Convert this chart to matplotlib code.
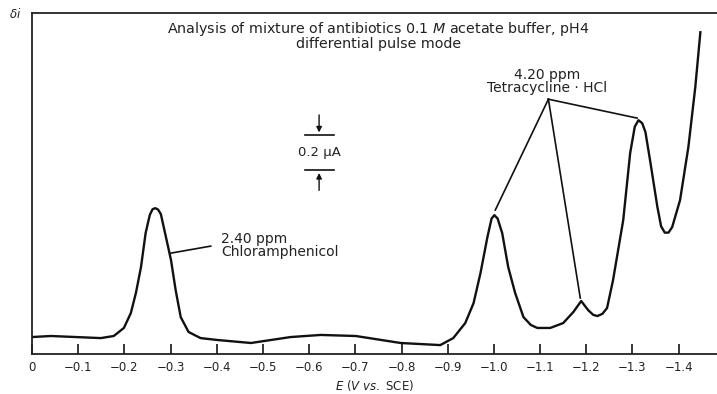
import matplotlib
matplotlib.use('Agg')
import matplotlib.pyplot as plt

plt.rcParams['font.family'] = ['DejaVu Sans']
plt.rcParams['mathtext.fontset'] = 'dejavusans'

# potential (V vs. SCE) and differential current (uA)
potential = [0.0, -0.041, -0.095, -0.149, -0.177, -0.199, -0.214, -0.225, -0.236, -0.246,
             -0.255, -0.261, -0.267, -0.273, -0.279, -0.290, -0.301, -0.311, -0.322, -0.339,
             -0.365, -0.402, -0.474, -0.560, -0.625, -0.701, -0.798, -0.884, -0.912, -0.938,
             -0.956, -0.971, -0.986, -0.995, -1.001, -1.008, -1.018, -1.031, -1.046, -1.064,
             -1.080, -1.094, -1.122, -1.150, -1.172, -1.189, -1.204, -1.215, -1.224, -1.235,
             -1.245, -1.258, -1.280, -1.295, -1.305, -1.313, -1.321, -1.328, -1.338, -1.354,
             -1.362, -1.370, -1.378, -1.386, -1.403, -1.421, -1.436, -1.447]
current = [0.097, 0.103, 0.097, 0.091, 0.103, 0.149, 0.234, 0.349, 0.497, 0.691,
           0.795, 0.828, 0.834, 0.826, 0.800, 0.669, 0.537, 0.366, 0.211, 0.126,
           0.091, 0.080, 0.063, 0.097, 0.109, 0.103, 0.063, 0.051, 0.091, 0.177,
           0.291, 0.463, 0.669, 0.775, 0.794, 0.775, 0.691, 0.497, 0.349, 0.211,
           0.166, 0.149, 0.149, 0.177, 0.240, 0.303, 0.251, 0.224, 0.217, 0.230,
           0.263, 0.423, 0.766, 1.149, 1.300, 1.337, 1.320, 1.270, 1.109, 0.840,
           0.730, 0.694, 0.694, 0.726, 0.880, 1.183, 1.526, 1.840]

tick_values = [0, -0.1, -0.2, -0.3, -0.4, -0.5, -0.6, -0.7, -0.8, -0.9, -1.0, -1.1, -1.2, -1.3, -1.4]
tick_labels = ['0', '\u22120.1', '\u22120.2', '\u22120.3', '\u22120.4', '\u22120.5', '\u22120.6',
               '\u22120.7', '\u22120.8', '\u22120.9', '\u22121.0', '\u22121.1', '\u22121.2',
               '\u22121.3', '\u22121.4']

# peak positions used for the annotation leaders
chlor_peak = (-0.301, 0.577)
tetra_peaks = [(-1.003, 0.823), (-1.187, 0.32), (-1.310, 1.349)]
tetra_label = (-1.118, 1.457)

txt = '#222222'

fig = plt.figure(figsize=(7.17, 3.94), dpi=100)
ax = fig.add_axes([0.0446, 0.1015, 0.9554, 0.8655])

ax.plot(potential, current, color='#111111', lw=1.7, solid_joinstyle='round')

ax.set_xlim(0, -1.483)
ax.set_ylim(0, 1.95)
ax.set_xticks(tick_values)
ax.set_xticklabels(tick_labels, fontsize=8.5, color=txt)
ax.set_yticks([])
ax.tick_params(axis='x', direction='in', length=7, width=1.1, pad=5)
ax.spines['right'].set_visible(False)
for s in ['left', 'top', 'bottom']:
    ax.spines[s].set_linewidth(1.3)
    ax.spines[s].set_color('#222222')

ax.set_xlabel(r'$\it{E}$ ($\it{V}$ $\it{vs.}$ SCE)', fontsize=8.5, color=txt, labelpad=3)
fig.text(0.012, 0.955, r'$\it{\delta i}$', fontsize=8.5, color=txt)

ax.text(-0.750, 1.91, 'Analysis of mixture of antibiotics 0.1 $\\it{M}$ acetate buffer, pH4\ndifferential pulse mode',
        ha='center', va='top', fontsize=10.3, color=txt, linespacing=0.95)

# chloramphenicol label
ax.plot([chlor_peak[0], -0.387], [chlor_peak[1], 0.617], color='#111111', lw=1.2)
ax.text(-0.409, 0.70, '2.40 ppm\nChloramphenicol', ha='left', va='top', fontsize=10,
        color=txt, linespacing=0.95)

# tetracycline label
for px, py in tetra_peaks:
    ax.plot([tetra_label[0], px], [tetra_label[1], py], color='#111111', lw=1.2)
ax.text(-1.116, 1.48, '4.20 ppm\nTetracycline \u00b7 HCl', ha='center', va='bottom', fontsize=10,
        color=txt, linespacing=0.95)

# 0.2 uA scale bar
sx = -0.6216
ax.plot([sx - 0.0314, sx + 0.0314], [1.251, 1.251], color='#111111', lw=1.2)
ax.plot([sx - 0.0314, sx + 0.0314], [1.051, 1.051], color='#111111', lw=1.2)
ax.annotate('', xy=(sx, 1.251), xytext=(sx, 1.383),
            arrowprops=dict(arrowstyle='-|>', color='#111111', lw=1.0, mutation_scale=8))
ax.annotate('', xy=(sx, 1.051), xytext=(sx, 0.92),
            arrowprops=dict(arrowstyle='-|>', color='#111111', lw=1.0, mutation_scale=8))
ax.text(sx, 1.151, '0.2 \u00b5A', ha='center', va='center', fontsize=9.5, color=txt)

fig.savefig('out.png', dpi=100)
